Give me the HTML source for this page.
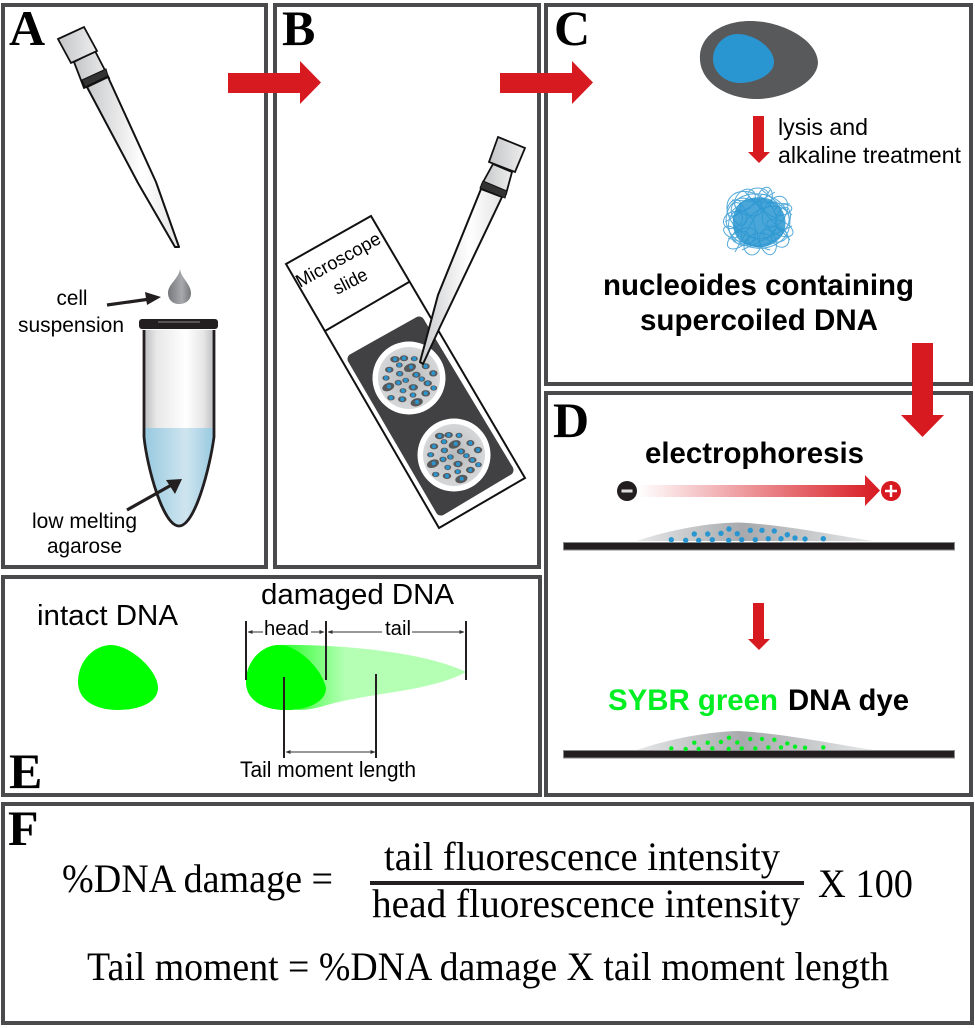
<!DOCTYPE html>
<html><head><meta charset="utf-8"><style>
html,body{margin:0;padding:0;background:#fff}
svg{display:block}
text{font-family:"Liberation Sans",sans-serif;fill:#000}
.s{font-family:"Liberation Serif",serif}
.l{font-family:"Liberation Serif",serif;font-weight:bold;font-size:50px}
.b{font-weight:bold;font-size:29.5px}
</style></head><body>
<svg width="975" height="1028" viewBox="0 0 975 1028" xmlns="http://www.w3.org/2000/svg">
<defs>
<linearGradient id="tipg" x1="0" y1="0" x2="1" y2="0"><stop offset="0" stop-color="#c9cacc"/><stop offset=".6" stop-color="#fff"/><stop offset="1" stop-color="#e4e4e4"/></linearGradient>
<linearGradient id="capg" x1="0" y1="0" x2="1" y2="0"><stop offset="0" stop-color="#c4c5c7"/><stop offset="1" stop-color="#eeeeee"/></linearGradient>
<linearGradient id="tube" x1="0" y1="0" x2="1" y2="0"><stop offset="0" stop-color="#bcbdbf"/><stop offset=".18" stop-color="#e8e8e8"/><stop offset=".6" stop-color="#fff"/><stop offset=".85" stop-color="#e6e6e6"/><stop offset="1" stop-color="#bcbdbf"/></linearGradient>
<linearGradient id="liq" x1="0" y1="0" x2="1" y2="0"><stop offset="0" stop-color="#97c9e0"/><stop offset=".6" stop-color="#cfe5ef"/><stop offset="1" stop-color="#97c9e0"/></linearGradient>
<linearGradient id="drop" x1="0" y1="0" x2="1" y2="0"><stop offset="0" stop-color="#77787b"/><stop offset=".6" stop-color="#a7a9ac"/><stop offset="1" stop-color="#77787b"/></linearGradient>
<linearGradient id="ep" x1="0" y1="0" x2="1" y2="0"><stop offset="0" stop-color="#fff"/><stop offset="1" stop-color="#d71920"/></linearGradient>
<linearGradient id="mound" x1="0" y1="0" x2="1" y2="0"><stop offset="0" stop-color="#e6e7e8"/><stop offset=".45" stop-color="#a7a9ac"/><stop offset="1" stop-color="#e6e7e8"/></linearGradient>
<linearGradient id="tailg" gradientUnits="userSpaceOnUse" x1="285" y1="0" x2="345" y2="0"><stop offset="0" stop-color="#33ff33"/><stop offset="1" stop-color="#b4ffb4"/></linearGradient>
<radialGradient id="well"><stop offset="0" stop-color="#b8b9bb"/><stop offset="1" stop-color="#d6d7d8"/></radialGradient>
<clipPath id="tc"><path d="M144,330 V437 C147,467 163,526 179,526 C195,526 210,467 214,437 V330 Z"/></clipPath>
<marker id="ah" viewBox="0 0 6 6" refX="5.5" refY="3" markerWidth="5" markerHeight="5" orient="auto-start-reverse" markerUnits="userSpaceOnUse"><path d="M0,0.5 L6,3 L0,5.5 Z" fill="#333"/></marker>
<g id="cells">
<g fill="#58595b">
<ellipse cx="395" cy="359.3" rx="4.8" ry="3.2"/><ellipse cx="404" cy="358.3" rx="4.2" ry="3"/><ellipse cx="414.3" cy="358.7" rx="3.5" ry="2.6"/><ellipse cx="425.7" cy="366.3" rx="4" ry="3"/><ellipse cx="433.3" cy="373.3" rx="4.2" ry="3.2"/><ellipse cx="410" cy="367.7" rx="6.2" ry="4" transform="rotate(-20 410 367.7)"/><ellipse cx="399.3" cy="365" rx="3.4" ry="2.6"/><ellipse cx="389.3" cy="369.7" rx="4.2" ry="3"/><ellipse cx="399.7" cy="373.7" rx="3.7" ry="2.8"/><ellipse cx="416.3" cy="374.7" rx="4.2" ry="3"/><ellipse cx="386" cy="378" rx="3.6" ry="2.6"/><ellipse cx="398.3" cy="382.7" rx="3.6" ry="2.8"/><ellipse cx="405.7" cy="380.3" rx="3.4" ry="2.6"/><ellipse cx="421.7" cy="379" rx="3.4" ry="2.6"/><ellipse cx="427.7" cy="383.3" rx="4.2" ry="3"/><ellipse cx="433.7" cy="388" rx="3.4" ry="2.6"/><ellipse cx="388.3" cy="387" rx="6.2" ry="4" transform="rotate(-20 388.3 387)"/><ellipse cx="413.3" cy="387.3" rx="4.7" ry="3.2"/><ellipse cx="403" cy="390.7" rx="3.4" ry="2.6"/><ellipse cx="425.7" cy="393.3" rx="4.4" ry="3.2"/><ellipse cx="413" cy="395" rx="3.4" ry="2.6"/><ellipse cx="391" cy="397.7" rx="3.7" ry="2.7"/><ellipse cx="402.3" cy="399.3" rx="4.2" ry="3"/><ellipse cx="416.7" cy="402.3" rx="6.2" ry="4" transform="rotate(-15 416.7 402.3)"/>
</g>
<g fill="#2a96d1">
<circle cx="395" cy="359.3" r="2"/><circle cx="404" cy="358.3" r="2"/><circle cx="414.3" cy="358.7" r="2"/><circle cx="425.7" cy="366.3" r="2"/><circle cx="433.3" cy="373.3" r="2"/><circle cx="411" cy="367" r="2"/><circle cx="399.3" cy="365" r="2"/><circle cx="389.3" cy="369.7" r="2"/><circle cx="399.7" cy="373.7" r="2"/><circle cx="416.3" cy="374.7" r="2"/><circle cx="386" cy="378" r="2"/><circle cx="398.3" cy="382.7" r="2"/><circle cx="405.7" cy="380.3" r="2"/><circle cx="421.7" cy="379" r="2"/><circle cx="427.7" cy="383.3" r="2"/><circle cx="433.7" cy="388" r="2"/><circle cx="389" cy="386.5" r="2"/><circle cx="413.3" cy="387.3" r="2"/><circle cx="403" cy="390.7" r="2"/><circle cx="425.7" cy="393.3" r="2"/><circle cx="413" cy="395" r="2"/><circle cx="391" cy="397.7" r="2"/><circle cx="402.3" cy="399.3" r="2"/><circle cx="417" cy="402" r="2"/>
</g>
</g>
</defs>

<!-- panels -->
<g fill="none" stroke="#4a4a4c" stroke-width="4">
<rect x="3" y="5" width="263" height="562"/>
<rect x="275" y="5" width="264" height="562"/>
<rect x="546" y="5" width="425" height="379"/>
<rect x="546" y="393" width="425" height="402"/>
<rect x="3" y="577" width="537" height="218"/>
<rect x="3" y="804" width="969" height="219"/>
</g>

<!-- Labels -->
<text class="l" x="9" y="45">A</text>
<text class="l" x="282" y="45">B</text>
<text class="l" x="554" y="45">C</text>
<text class="l" x="553" y="437">D</text>
<text class="l" x="9" y="788">E</text>
<text class="l" x="8" y="845">F</text>

<!-- Pipette A -->
<polygon points="74,62 95,51 109,78 84,88" fill="url(#capg)" stroke="#111" stroke-width="1.8"/>
<polygon points="58,39 84,27 97,51 71,63" fill="url(#capg)" stroke="#111" stroke-width="1.8"/>
<polygon points="87,87 108,77 156,182 179,247 175,247 138,183" fill="url(#tipg)" stroke="#111" stroke-width="2" stroke-linejoin="round"/>
<polygon points="82,80 106,69 108,76 85,87" fill="#333" stroke="#111"/>

<!-- drop -->
<path d="M180,269 C181,278 191,284 191,293 C191,300 186,304 179,304 C173,304 168,300 168,293 C168,284 178,280 180,269 Z" fill="url(#drop)"/>
<text x="72" y="305" font-size="21" text-anchor="middle" textLength="31" lengthAdjust="spacingAndGlyphs">cell</text>
<text x="18" y="332" font-size="21" textLength="106" lengthAdjust="spacingAndGlyphs">suspension</text>
<path d="M107,305 L150,299" stroke="#231f20" stroke-width="3.2" fill="none"/>
<path d="M145,292 L161,297 L147,305 Z" fill="#231f20"/>

<!-- tube -->
<g clip-path="url(#tc)">
<rect x="144" y="330" width="70" height="100" fill="url(#tube)"/>
<rect x="144" y="428" width="70" height="100" fill="url(#liq)"/>
</g>
<path d="M144,330 V437 C147,467 163,526 179,526 C195,526 210,467 214,437 V330" fill="none" stroke="#231f20" stroke-width="2.8"/>
<rect x="139" y="319" width="79" height="10" rx="3" fill="#231f20"/>
<path d="M158,322 H200" stroke="#888" stroke-width="1"/>
<path d="M127,510 L175,483" stroke="#231f20" stroke-width="3.2" fill="none"/>
<path d="M166,480 L182,479 L175,494 Z" fill="#231f20"/>
<text x="32" y="528" font-size="21" textLength="105" lengthAdjust="spacingAndGlyphs">low melting</text>
<text x="47" y="553" font-size="21" textLength="75" lengthAdjust="spacingAndGlyphs">agarose</text>

<!-- Slide -->
<polygon points="286,264 371,216 525,478 439,528" fill="#fff" stroke="#111" stroke-width="2"/>
<line x1="325" y1="331" x2="409" y2="282" stroke="#111" stroke-width="2"/>
<path d="M353,359 L419,322 L508,470 L441,510 Z" fill="#414042" stroke="#414042" stroke-width="11" stroke-linejoin="round"/>
<circle cx="409" cy="378" r="36.5" fill="#fff"/><circle cx="409" cy="378" r="31" fill="url(#well)"/>
<circle cx="454" cy="455" r="36.5" fill="#fff"/><circle cx="454" cy="455" r="31" fill="url(#well)"/>
<use href="#cells"/>
<use href="#cells" x="44.7" y="76.7"/>
<text transform="translate(300,288) rotate(-29)" font-size="18.5" textLength="94" lengthAdjust="spacingAndGlyphs">Microscope</text>
<text transform="translate(337,295) rotate(-27)" font-size="18.5" textLength="36" lengthAdjust="spacingAndGlyphs">slide</text>

<!-- Pipette B -->
<polygon points="493,164 512,172 506,194 482,184" fill="url(#capg)" stroke="#111" stroke-width="1.8"/>
<polygon points="498,137 525,148 515,172 489,162" fill="url(#capg)" stroke="#111" stroke-width="1.8"/>
<polygon points="481,189 502,197 440,327 423,364 420,362 438,295" fill="url(#tipg)" stroke="#111" stroke-width="2" stroke-linejoin="round"/>
<polygon points="483,181 507,191 505,198 480,188" fill="#333" stroke="#111"/>

<!-- Red arrows -->
<g fill="#d71920">
<path d="M228,73 H300 V61 L321,82.5 L300,104 V93 H228 Z"/>
<path d="M500,73 H572 V61 L593,82.5 L572,104 V93 H500 Z"/>
<path d="M912,343 H933 V415 H944 L922.5,437 L901,415 H912 Z"/>
<path d="M753,116 H764 V152 H770 L759,163 L748,152 H753 Z"/>
<path d="M753,603 H764 V639 H770 L759,650 L748,639 H753 Z"/>
</g>

<!-- Cell -->
<path d="M700,55 C702,32 727,20 753,21 C783,22 817,40 818,62 C818,83 783,99 757,99 C727,99 698,82 700,55 Z" fill="#58595b"/>
<path d="M713,59 C713,45 725,34 737,34 C755,34 774,48 774,62 C774,75 755,83 740,83 C725,83 713,72 713,59 Z" fill="#2a96d1"/>
<text x="778" y="135" font-size="23" textLength="90" lengthAdjust="spacingAndGlyphs">lysis and</text>
<text x="778" y="163" font-size="23" textLength="183" lengthAdjust="spacingAndGlyphs">alkaline treatment</text>

<!-- Tangle -->
<path d="M740,203 C750,195 770,195 778,205 C788,214 788,232 778,240 C768,250 748,249 739,240 C730,230 731,212 740,203 Z" fill="#2a96d1" opacity=".85"/>
<g fill="none" stroke="#2a96d1" stroke-width="1" opacity=".8">
<ellipse cx="758" cy="221" rx="32" ry="27" transform="rotate(10 758 221)"/>
<ellipse cx="752" cy="215" rx="28" ry="20" transform="rotate(40 752 215)"/>
<ellipse cx="765" cy="226" rx="26" ry="17" transform="rotate(-30 765 226)"/>
<ellipse cx="742" cy="228" rx="18" ry="13" transform="rotate(75 742 228)"/>
<ellipse cx="775" cy="212" rx="17" ry="11" transform="rotate(-60 775 212)"/>
<ellipse cx="768" cy="242" rx="8" ry="13" transform="rotate(-15 768 242)"/>
<ellipse cx="780" cy="228" rx="14" ry="7" transform="rotate(25 780 228)"/>
<ellipse cx="733" cy="220" rx="10" ry="8" transform="rotate(-30 733 220)"/>
<ellipse cx="745" cy="200" rx="12" ry="9" transform="rotate(-50 745 200)"/>
<ellipse cx="765" cy="198" rx="7" ry="11" transform="rotate(15 765 198)"/>
<ellipse cx="738" cy="240" rx="12" ry="7" transform="rotate(-35 738 240)"/>
<ellipse cx="752" cy="246" rx="8" ry="9"/>
<ellipse cx="783" cy="210" rx="9" ry="5" transform="rotate(-15 783 210)"/>
<ellipse cx="731" cy="232" rx="8" ry="5" transform="rotate(30 731 232)"/>
<ellipse cx="758" cy="194" rx="10" ry="6"/>
<ellipse cx="780" cy="238" rx="8" ry="10" transform="rotate(-40 780 238)"/>
<ellipse cx="748" cy="207" rx="14" ry="8" transform="rotate(20 748 207)"/>
<ellipse cx="770" cy="206" rx="14" ry="7" transform="rotate(50 770 206)"/>
<ellipse cx="739" cy="214" rx="12" ry="7" transform="rotate(70 739 214)"/>
<ellipse cx="775" cy="234" rx="12" ry="8" transform="rotate(10 775 234)"/>
<ellipse cx="745" cy="236" rx="13" ry="8" transform="rotate(-10 745 236)"/>
<ellipse cx="760" cy="240" rx="12" ry="7"/>
<ellipse cx="783" cy="219" rx="7" ry="12" transform="rotate(15 783 219)"/>
<ellipse cx="734" cy="208" rx="6" ry="9" transform="rotate(30 734 208)"/>
<path d="M732,200 L790,204 M727,215 L750,196 M735,252 L770,190 M745,192 L790,240 M762,190 L792,215 M728,238 L770,250 M725,222 L775,192 M742,250 L792,226"/>
</g>
<text x="603" y="295" class="b" textLength="311" lengthAdjust="spacingAndGlyphs">nucleoides containing</text>
<text x="640" y="330" class="b" textLength="238" lengthAdjust="spacingAndGlyphs">supercoiled DNA</text>

<!-- D -->
<text x="645" y="463" class="b" textLength="219" lengthAdjust="spacingAndGlyphs">electrophoresis</text>
<path d="M638,485 H865 V475 L880,490.5 L865,506 V497 H638 Z" fill="url(#ep)"/>
<circle cx="627" cy="491" r="10" fill="#231f20"/><rect x="621.5" y="489.5" width="11" height="3" fill="#ddd"/>
<circle cx="891" cy="491" r="10" fill="#d71920"/><path d="M885,491 H897 M891,485 V497" stroke="#fff" stroke-width="2.4"/>
<path d="M637,541 C660,533 700,523 738,522.5 C780,524 840,536 873,541 Z" fill="url(#mound)"/>
<rect x="563.5" y="542.5" width="391" height="7.5" fill="#231f20" stroke="#8a8a8a"/>
<g fill="#2a96d1">
<circle cx="671.3" cy="539.7" r="2.7"/><circle cx="685.7" cy="540.3" r="2.7"/><circle cx="698.7" cy="540.3" r="2.7"/><circle cx="712.3" cy="539.7" r="2.7"/><circle cx="728.7" cy="540.3" r="2.7"/><circle cx="741.7" cy="539.7" r="2.7"/><circle cx="755.3" cy="539.7" r="2.7"/><circle cx="768.3" cy="538.7" r="2.7"/><circle cx="781" cy="538.7" r="2.7"/><circle cx="795" cy="538" r="2.7"/><circle cx="805" cy="539" r="2.7"/><circle cx="823.3" cy="538.7" r="2.7"/><circle cx="694.3" cy="534" r="2.7"/><circle cx="707.7" cy="534" r="2.7"/><circle cx="721" cy="533.3" r="2.7"/><circle cx="737.3" cy="533.7" r="2.7"/><circle cx="729" cy="529" r="2.7"/><circle cx="750.3" cy="530.3" r="2.7"/><circle cx="762" cy="530.3" r="2.7"/><circle cx="774.3" cy="531" r="2.7"/><circle cx="787.3" cy="534.7" r="2.7"/>
</g>
<text x="608" y="710" class="b" style="fill:#00ee22" textLength="170" lengthAdjust="spacingAndGlyphs">SYBR green</text>
<text x="788" y="710" class="b" textLength="121" lengthAdjust="spacingAndGlyphs">DNA dye</text>
<path d="M637,750 C660,742 700,732 738,731 C780,733 840,745 873,750 Z" fill="url(#mound)"/>
<rect x="563.5" y="750.5" width="391" height="7.5" fill="#231f20" stroke="#8a8a8a"/>
<g fill="#00ee22" transform="translate(0,208.7)">
<circle cx="671.3" cy="539.7" r="2.2"/><circle cx="685.7" cy="540.3" r="2.2"/><circle cx="698.7" cy="540.3" r="2.2"/><circle cx="712.3" cy="539.7" r="2.2"/><circle cx="728.7" cy="540.3" r="2.2"/><circle cx="741.7" cy="539.7" r="2.2"/><circle cx="755.3" cy="539.7" r="2.2"/><circle cx="768.3" cy="538.7" r="2.2"/><circle cx="781" cy="538.7" r="2.2"/><circle cx="795" cy="538" r="2.2"/><circle cx="805" cy="539" r="2.2"/><circle cx="823.3" cy="538.7" r="2.2"/><circle cx="694.3" cy="534" r="2.2"/><circle cx="707.7" cy="534" r="2.2"/><circle cx="721" cy="533.3" r="2.2"/><circle cx="737.3" cy="533.7" r="2.2"/><circle cx="729" cy="529" r="2.2"/><circle cx="750.3" cy="530.3" r="2.2"/><circle cx="762" cy="530.3" r="2.2"/><circle cx="774.3" cy="531" r="2.2"/><circle cx="787.3" cy="534.7" r="2.2"/>
</g>

<!-- E -->
<text x="37" y="625" font-size="29" textLength="141" lengthAdjust="spacingAndGlyphs">intact DNA</text>
<text x="261" y="604" font-size="29" textLength="193" lengthAdjust="spacingAndGlyphs">damaged DNA</text>
<path d="M78,682 C78,660 95,645 111,645 C130,645 158,670 158,688 C158,702 140,710 118,710 C95,710 78,700 78,682 Z" fill="#00ff00"/>
<path d="M246,682 C246,660 263,645 279,645 C298,645 326,670 326,688 C326,702 308,710 286,710 C263,710 246,700 246,682 Z" fill="#00ff00"/>
<path d="M278,645 C340,644 425,652 466,672 C430,692 370,692 320,707 C300,712 285,711 282,700 C290,680 285,660 278,645 Z" fill="url(#tailg)"/>
<path d="M246,682 C246,660 263,645 279,645 C291,645 306,655 316,668 C324,678 326,688 326,688 C326,702 308,710 286,710 C263,710 246,700 246,682 Z" fill="#00ff00"/>
<g stroke="#231f20" stroke-width="2" fill="none">
<path d="M246,621 V680 M326,621 V680 M466,621 V680 M284,677 V758 M376,674 V758"/>
</g>
<g stroke="#333" stroke-width="1" fill="none">
<path d="M263,632 H248" marker-end="url(#ah)"/>
<path d="M311,632 H324" marker-end="url(#ah)"/>
<path d="M382,632 H328" marker-end="url(#ah)"/>
<path d="M412,632 H464" marker-end="url(#ah)"/>
<path d="M286,752 H375" marker-start="url(#ah)" marker-end="url(#ah)"/>
</g>
<text x="264" y="635" font-size="20" textLength="45" lengthAdjust="spacingAndGlyphs">head</text>
<text x="385" y="635" font-size="20" textLength="26" lengthAdjust="spacingAndGlyphs">tail</text>
<text x="240" y="777" font-size="22" textLength="176" lengthAdjust="spacingAndGlyphs">Tail moment length</text>

<!-- F -->
<text class="s" x="62" y="892" font-size="40" textLength="271" lengthAdjust="spacingAndGlyphs">%DNA damage =</text>
<text class="s" x="384" y="870" font-size="40" textLength="396" lengthAdjust="spacingAndGlyphs">tail fluorescence intensity</text>
<rect x="370" y="881" width="434" height="4" fill="#231f20"/>
<text class="s" x="372" y="917" font-size="40" textLength="428" lengthAdjust="spacingAndGlyphs">head fluorescence intensity</text>
<text class="s" x="818" y="897" font-size="40" textLength="95" lengthAdjust="spacingAndGlyphs">X 100</text>
<text class="s" x="87" y="980" font-size="40" textLength="802" lengthAdjust="spacingAndGlyphs">Tail moment = %DNA damage X tail moment length</text>
</svg>
</body></html>
